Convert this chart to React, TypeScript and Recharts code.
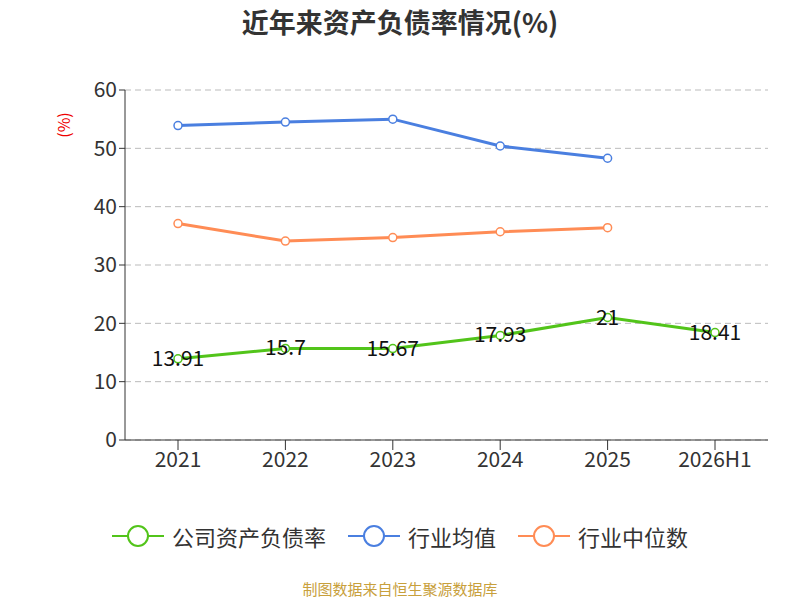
import React from "react";
import { LineChart, Line, XAxis, YAxis, CartesianGrid } from "recharts";

const categories = ["2021", "2022", "2023", "2024", "2025", "2026H1"];
const company = [13.91, 15.7, 15.67, 17.93, 21, 18.41];
const industryAvg = [53.9, 54.5, 55.0, 50.4, 48.3, null];
const industryMedian = [37.1, 34.1, 34.7, 35.7, 36.4, null];
const yTicks = [0, 10, 20, 30, 40, 50, 60];

const data = categories.map((c, i) => ({
  name: c,
  company: company[i],
  avg: industryAvg[i],
  median: industryMedian[i],
}));

const series = [
  { key: "company", name: "公司资产负债率", color: "#52c41a" },
  { key: "avg", name: "行业均值", color: "#4a7fe0" },
  { key: "median", name: "行业中位数", color: "#ff8c55" },
];

const font = "'Noto Sans CJK SC', 'Noto Sans', sans-serif";

const label = (props: any) => {
  const { x, y, value } = props;
  return (
    <text x={x} y={y} dy={7} textAnchor="middle" fontSize={21} fill="#111" fontFamily={font}>
      {value}
    </text>
  );
};

export default function App() {
  return (
    <div style={{ position: "absolute", left: 0, top: 0, width: 800, height: 600, background: "#fff", fontFamily: font }}>
      <div style={{ position: "absolute", top: 2, width: 800, textAlign: "center", fontSize: 27, fontWeight: "bold", color: "#333" }}>
        近年来资产负债率情况(%)
      </div>
      <div style={{ position: "absolute", left: 50, top: 113, transform: "rotate(-90deg)", color: "#e00", fontSize: 16 }}>(%)</div>
      <LineChart width={800} height={600} data={data} margin={{ top: 90, right: 32, left: 65, bottom: 120 }}>
        <CartesianGrid vertical={false} stroke="#bbb" strokeDasharray="6 4" />
        <XAxis dataKey="name" height={40} padding={{ left: 53, right: 53 }} tick={{ fontSize: 21, fill: "#333" }} stroke="#333" tickLine={{ stroke: "#333" }} tickSize={10} interval={0} />
        <YAxis domain={[0, 60]} ticks={yTicks} width={60} tick={{ fontSize: 21, fill: "#333" }} stroke="#333" tickSize={6} />
        <Line dataKey="company" stroke="#52c41a" strokeWidth={3} dot={{ r: 4, fill: "#fff", strokeWidth: 1.5 }} isAnimationActive={false} label={label} />
        <Line dataKey="avg" stroke="#4a7fe0" strokeWidth={3} dot={{ r: 4, fill: "#fff", strokeWidth: 1.5 }} isAnimationActive={false} />
        <Line dataKey="median" stroke="#ff8c55" strokeWidth={3} dot={{ r: 4, fill: "#fff", strokeWidth: 1.5 }} isAnimationActive={false} />
      </LineChart>
      <div style={{ position: "absolute", top: 520, width: 800, display: "flex", justifyContent: "center", gap: 22, fontSize: 22, color: "#333" }}>
        {series.map((s) => (
          <div key={s.key} style={{ display: "flex", alignItems: "center", gap: 8 }}>
            <svg width={52} height={24}>
              <line x1={0} y1={12} x2={52} y2={12} stroke={s.color} strokeWidth={2} />
              <circle cx={26} cy={12} r={10} fill="#fff" stroke={s.color} strokeWidth={2} />
            </svg>
            <span>{s.name}</span>
          </div>
        ))}
      </div>
      <div style={{ position: "absolute", top: 578, width: 800, textAlign: "center", fontSize: 15, color: "#c8a03c" }}>
        制图数据来自恒生聚源数据库
      </div>
    </div>
  );
}
